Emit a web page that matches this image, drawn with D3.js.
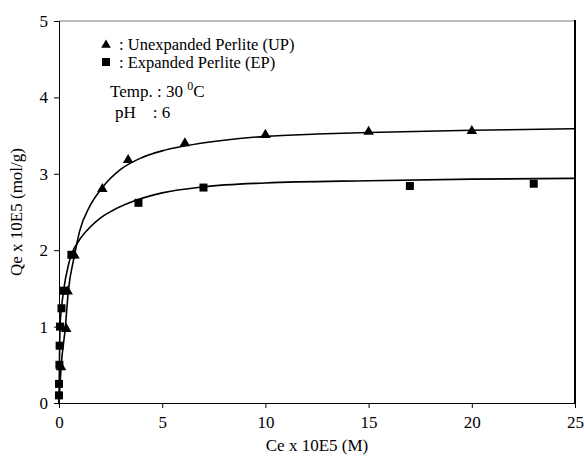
<!DOCTYPE html>
<html><head><meta charset="utf-8">
<script src="https://cdn.jsdelivr.net/npm/d3@7"></script>
<style>body{margin:0;background:#fff}svg{display:block}svg text{font-family:"Liberation Serif","Times New Roman",serif !important;fill:#000}</style>
</head><body><svg id="c" width="584" height="458"></svg>
<script>
// Data
const xTicks = [0, 5, 10, 15, 20, 25];
const yTicks = [0, 1, 2, 3, 4, 5];
const upCe = [0.1, 0.35, 0.42, 0.75, 2.1, 3.35, 6.1, 10, 15, 20];
const upQe = [0.47, 0.97, 1.46, 1.93, 2.8, 3.18, 3.4, 3.51, 3.55, 3.56];
const epCe = [0.0, 0.0, 0.02, 0.03, 0.05, 0.12, 0.22, 0.6, 3.85, 7.0, 17, 23];
const epQe = [0.1, 0.25, 0.5, 0.75, 1.0, 1.24, 1.47, 1.94, 2.62, 2.82, 2.84, 2.87];
const upFitCe = [0, 0.1, 0.3, 0.45, 0.75, 1.0, 1.5, 2.1, 3, 4, 5, 6, 8, 10, 12.5, 15, 20, 25];
const upFitQe = [0, 0.47, 0.97, 1.46, 1.93, 2.25, 2.58, 2.82, 3.06, 3.21, 3.3, 3.36, 3.44, 3.49, 3.52, 3.54, 3.57, 3.59];
const epFitCe = [0, 0.02, 0.05, 0.12, 0.22, 0.45, 0.6, 1.0, 1.5, 2, 2.6, 3.8, 5, 7, 10, 15, 20, 25];
const epFitQe = [0, 0.5, 1.0, 1.24, 1.47, 1.8, 1.94, 2.14, 2.3, 2.42, 2.52, 2.66, 2.75, 2.83, 2.88, 2.91, 2.93, 2.94];

const svg = d3.select("#c");
const x = d3.scaleLinear().domain([0, 25]).range([59, 575]);
const y = d3.scaleLinear().domain([0, 5]).range([403, 21]);

// frame
svg.append("line").attr("x1", 59).attr("x2", 575).attr("y1", 21).attr("y2", 21).attr("stroke", "#777").attr("stroke-width", 1);
svg.append("line").attr("x1", 575).attr("x2", 575).attr("y1", 20).attr("y2", 403).attr("stroke", "#000").attr("stroke-width", 2);

const xa = svg.append("g").attr("transform", "translate(0,403)")
  .call(d3.axisBottom(x).tickValues(xTicks).tickSize(5).tickPadding(8).tickFormat(d3.format("d")));
const ya = svg.append("g").attr("transform", "translate(59,0)")
  .call(d3.axisLeft(y).tickValues(yTicks).tickSize(5).tickPadding(6).tickFormat(d3.format("d")));
[xa, ya].forEach(a => {
  a.attr("font-family", "Liberation Serif").attr("font-size", 17);
  a.select(".domain").attr("stroke", "#000").attr("stroke-width", 1);
  a.selectAll(".tick line").attr("stroke", "#000");
  a.selectAll(".tick text").attr("fill", "#000");
});

const line = d3.line().x(d => x(d[0])).y(d => y(d[1])).curve(d3.curveMonotoneX);
svg.append("path").datum(upFitCe.map((c, i) => [c, upFitQe[i]])).attr("d", line)
  .attr("fill", "none").attr("stroke", "#000").attr("stroke-width", 1.6);
svg.append("path").datum(epFitCe.map((c, i) => [c, epFitQe[i]])).attr("d", line)
  .attr("fill", "none").attr("stroke", "#000").attr("stroke-width", 1.6);

const tri = d3.symbol().type(d3.symbolTriangle).size(48);
svg.selectAll(".up").data(upCe.map((c, i) => [c, upQe[i]])).enter().append("path")
  .attr("transform", d => `translate(${x(d[0])},${y(d[1])})`).attr("d", tri).attr("fill", "#000");
svg.selectAll(".ep").data(epCe.map((c, i) => [c, epQe[i]])).enter().append("rect")
  .attr("x", d => x(d[0]) - 4).attr("y", d => y(d[1]) - 4).attr("width", 8).attr("height", 8).attr("fill", "#000");

// legend
svg.append("path").attr("transform", "translate(106,45)").attr("d", d3.symbol().type(d3.symbolTriangle).size(40)).attr("fill", "#000");
svg.append("text").attr("x", 119).attr("y", 50).attr("font-size", 16.5).text(": Unexpanded Perlite (UP)");
svg.append("rect").attr("x", 102).attr("y", 58).attr("width", 8).attr("height", 8).attr("fill", "#000");
svg.append("text").attr("x", 119).attr("y", 67.5).attr("font-size", 16.5).text(": Expanded Perlite (EP)");
const t = svg.append("text").attr("x", 110).attr("y", 97).attr("font-size", 17);
t.append("tspan").text("Temp. : 30 ");
t.append("tspan").attr("dy", -7).attr("font-size", 12).text("0");
t.append("tspan").attr("dy", 7).text("C");
svg.append("text").attr("x", 115).attr("y", 118).attr("font-size", 17).style("white-space", "pre").text("pH    : 6");

// axis titles
svg.append("text").attr("x", 317).attr("y", 451).attr("text-anchor", "middle").attr("font-size", 17).text("Ce x 10E5 (M)");
svg.append("text").attr("transform", "translate(22,212) rotate(-90)").attr("text-anchor", "middle").attr("font-size", 17).text("Qe x 10E5 (mol/g)");
</script></body></html>
